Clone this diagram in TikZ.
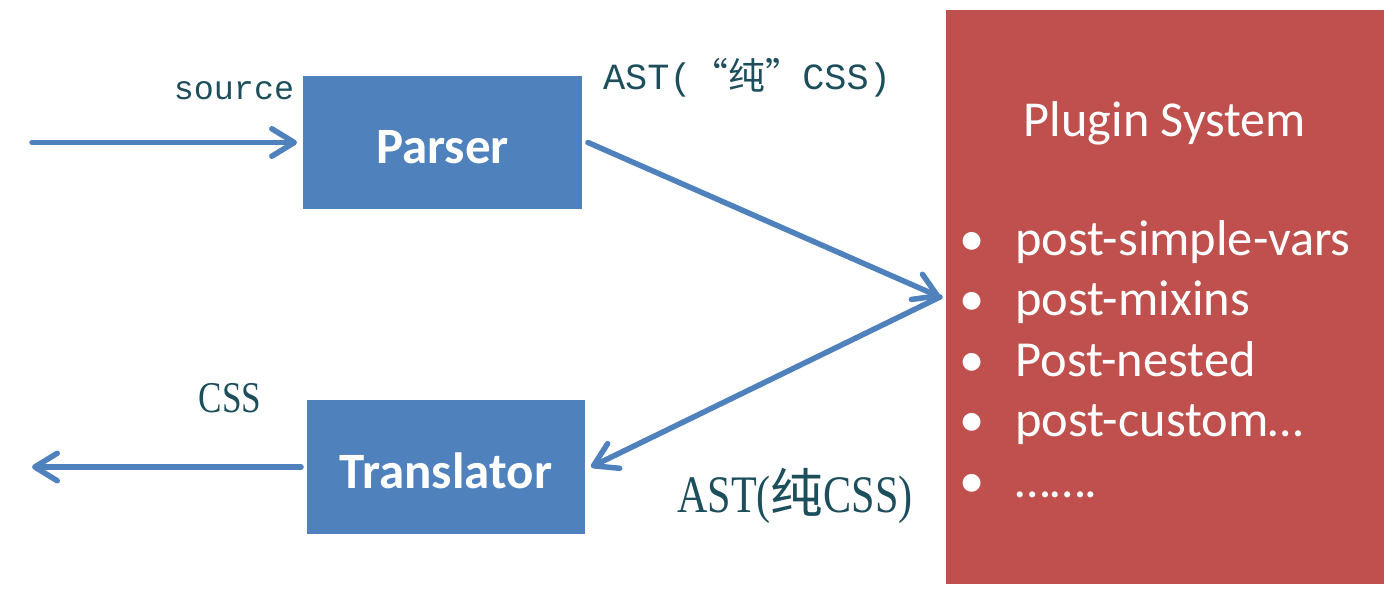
\documentclass[tikz,border=0pt]{standalone}
\usepackage{fontspec}
\setmainfont{Carlito}
\newfontfamily\monofont{Liberation Mono}
\newfontfamily\narrowfont[FakeStretch=0.8]{Liberation Serif}
\newfontfamily\cjk{Noto Sans CJK SC}
\usepackage{xcolor}
\usetikzlibrary{positioning,shapes,shadows,arrows.meta}
\definecolor{boxblue}{HTML}{4F81BD}
\definecolor{boxred}{HTML}{C0504D}
\definecolor{labelcol}{HTML}{1D4E5C}
\tikzset{
  basic/.style  = {draw=white, line width=0.12cm, rectangle, text=white,
                   drop shadow={shadow xshift=0.04cm, shadow yshift=-0.06cm,
                   fill=black!60, opacity=0.3}},
  stage/.style  = {basic, fill=boxblue, minimum width=5.7cm, minimum height=2.78cm,
                   text height=0.86cm, font=\fontsize{29}{33}\selectfont\bfseries},
  plugin/.style = {basic, fill=boxred, minimum width=8.88cm, minimum height=11.6cm},
  item/.style   = {anchor=base west, text=white, inner sep=0pt,
                   font=\fontsize{28.7}{32}\selectfont},
  flow/.style   = {draw=boxblue, line width=0.11cm, line cap=round,
                   -{Straight Barb[length=0.45cm,width=0.55cm,round]}},
  tag/.style    = {anchor=base, text=labelcol, inner sep=0pt}
}

\begin{document}
\begin{tikzpicture}[x=0.02cm, y=-0.02cm]
\useasboundingbox (0,0) rectangle (1398,601);

% the two stages and the plugin box
\node[stage] (parser) at (442.5,142.5) {Parser};
\node[stage, minimum width=5.68cm, minimum height=2.8cm] (trans) at (446,467) {Translator};
\node[plugin] (plugin) at (1165,297) {};

% contents of the plugin box
\node[item, anchor=base, font=\fontsize{28.6}{32}\selectfont] (ptitle) at (1165,137) {Plugin System};
\foreach \txt [count=\i] in {post-simple-vars, post-mixins, Post-nested, post-custom…, …….}
  \node[item] (item\i) at (959, {255+60.5*(\i-1)}) {\makebox[1.12cm][l]{\textbullet}\txt};

% free ends of the outer arrows
\coordinate (in) at (32,142.5);
\coordinate (out) at (32,467);

% the flow
\draw[flow] (in) -- (parser.west);
\draw[flow] (parser.east) -- (plugin.west);
\draw[flow] (plugin.west) -- (trans.east);
\draw[flow] (trans.west) -- (out);

% labels along the flow
\node[tag, font=\monofont\fontsize{19}{22}\selectfont] (src) at (234,100) {source};
\node[tag, font=\monofont\fontsize{21}{24}\selectfont] (ast1) at (747,90) {AST({\cjk “纯”}CSS)};
\node[tag, font=\narrowfont\fontsize{25}{28}\selectfont] (css) at (230,412) {CSS};
\node[tag, font=\narrowfont\fontsize{30}{34}\selectfont] (ast2) at (795,512) {AST({\cjk 纯}CSS)};
\end{tikzpicture}
\end{document}
